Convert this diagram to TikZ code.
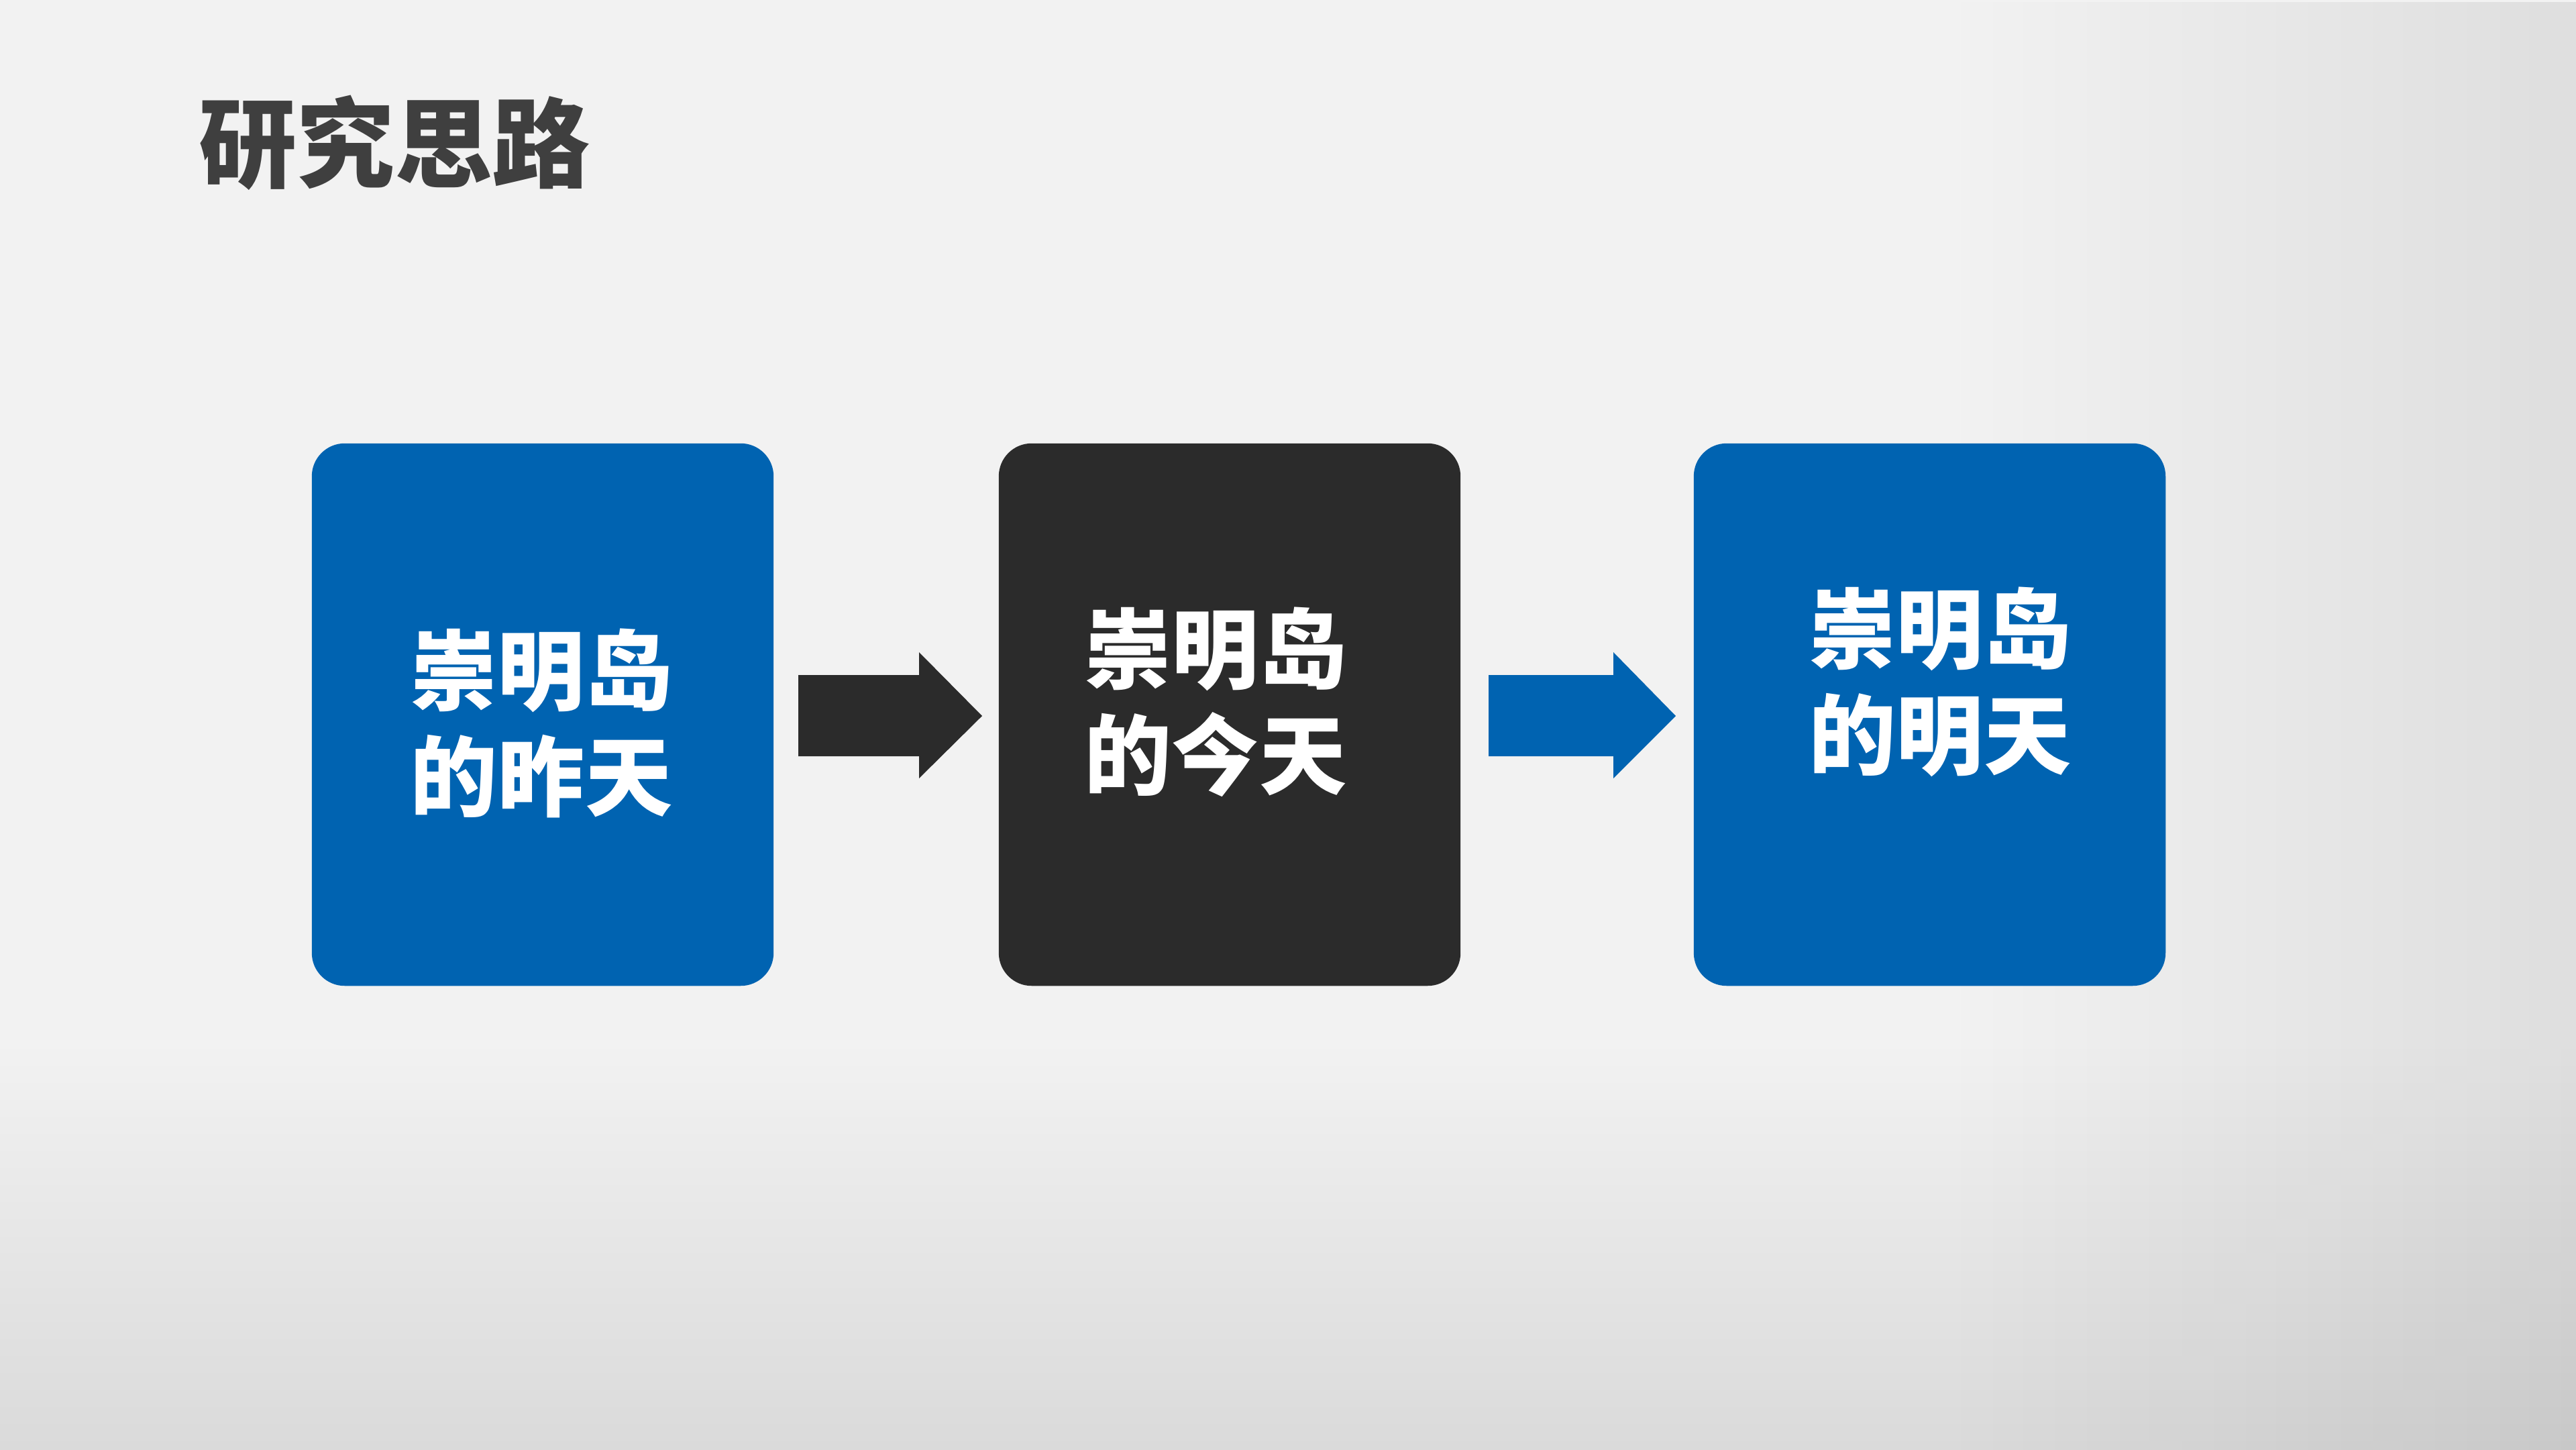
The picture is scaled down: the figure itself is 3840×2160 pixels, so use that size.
\documentclass[tikz,border=0pt]{standalone}
\usepackage{fontspec}
\newfontfamily\cjk{Noto Sans CJK SC}
\usetikzlibrary{fadings}
\definecolor{boxblue}{HTML}{0063B1}
\definecolor{boxdark}{HTML}{2B2B2B}
\definecolor{titlegray}{HTML}{3F3F3F}
\tikzset{
  card/.style={rounded corners=0.49cm, inner sep=0pt, minimum width=6.88cm, minimum height=8.08cm},
  cardtext/.style={text=white, font=\cjk\bfseries\fontsize{37pt}{45pt}\selectfont, align=center, inner sep=0pt},
  blockarrow/.style={draw=none}
}
\begin{document}
\begin{tikzpicture}[x=0.01cm, y=-0.01cm]
\useasboundingbox (0,0) rectangle (3840,2160);
% background
\fill[color={rgb,255:red,242;green,242;blue,242}] (0,0) rectangle (3840,2160);
\shade[top color={rgb,255:red,242;green,242;blue,242}, bottom color={rgb,255:red,218;green,218;blue,218}] (0,1550) rectangle (3840,2160);
\fill[black, opacity=0.08, path fading=west] (2900,0) rectangle (3840,2160);
% title
\node[text=titlegray, font=\cjk\bfseries\fontsize{41.5pt}{50pt}\selectfont, inner sep=0pt] (title) at (588,213) {研究思路};
% cards
\node[card, fill=boxblue] (b1) at (809,1065) {};
\node[card, fill=boxdark] (b2) at (1833,1065) {};
\node[card, fill=boxblue, minimum width=7.03cm] (b3) at (2876.5,1065) {};
% texts
\node[cardtext] (t1) at (807,1078) {崇明岛\\的昨天};
\node[cardtext] (t2) at (1812,1046) {崇明岛\\的今天};
\node[cardtext] (t3) at (2892,1016) {崇明岛\\的明天};
% block arrows
\coordinate (a1s) at (1190,1066);
\coordinate (a2s) at (2219,1066);
\fill[boxdark] (a1s) ++(0,-60) -- ++(180,0) -- ++(0,-34) -- ++(94,95) -- ++(-94,93) -- ++(0,-33) -- ++(-180,0) -- cycle;
\fill[boxblue] (a2s) ++(0,-60) -- ++(186,0) -- ++(0,-34) -- ++(93,95) -- ++(-93,93) -- ++(0,-33) -- ++(-186,0) -- cycle;
\end{tikzpicture}
\end{document}
